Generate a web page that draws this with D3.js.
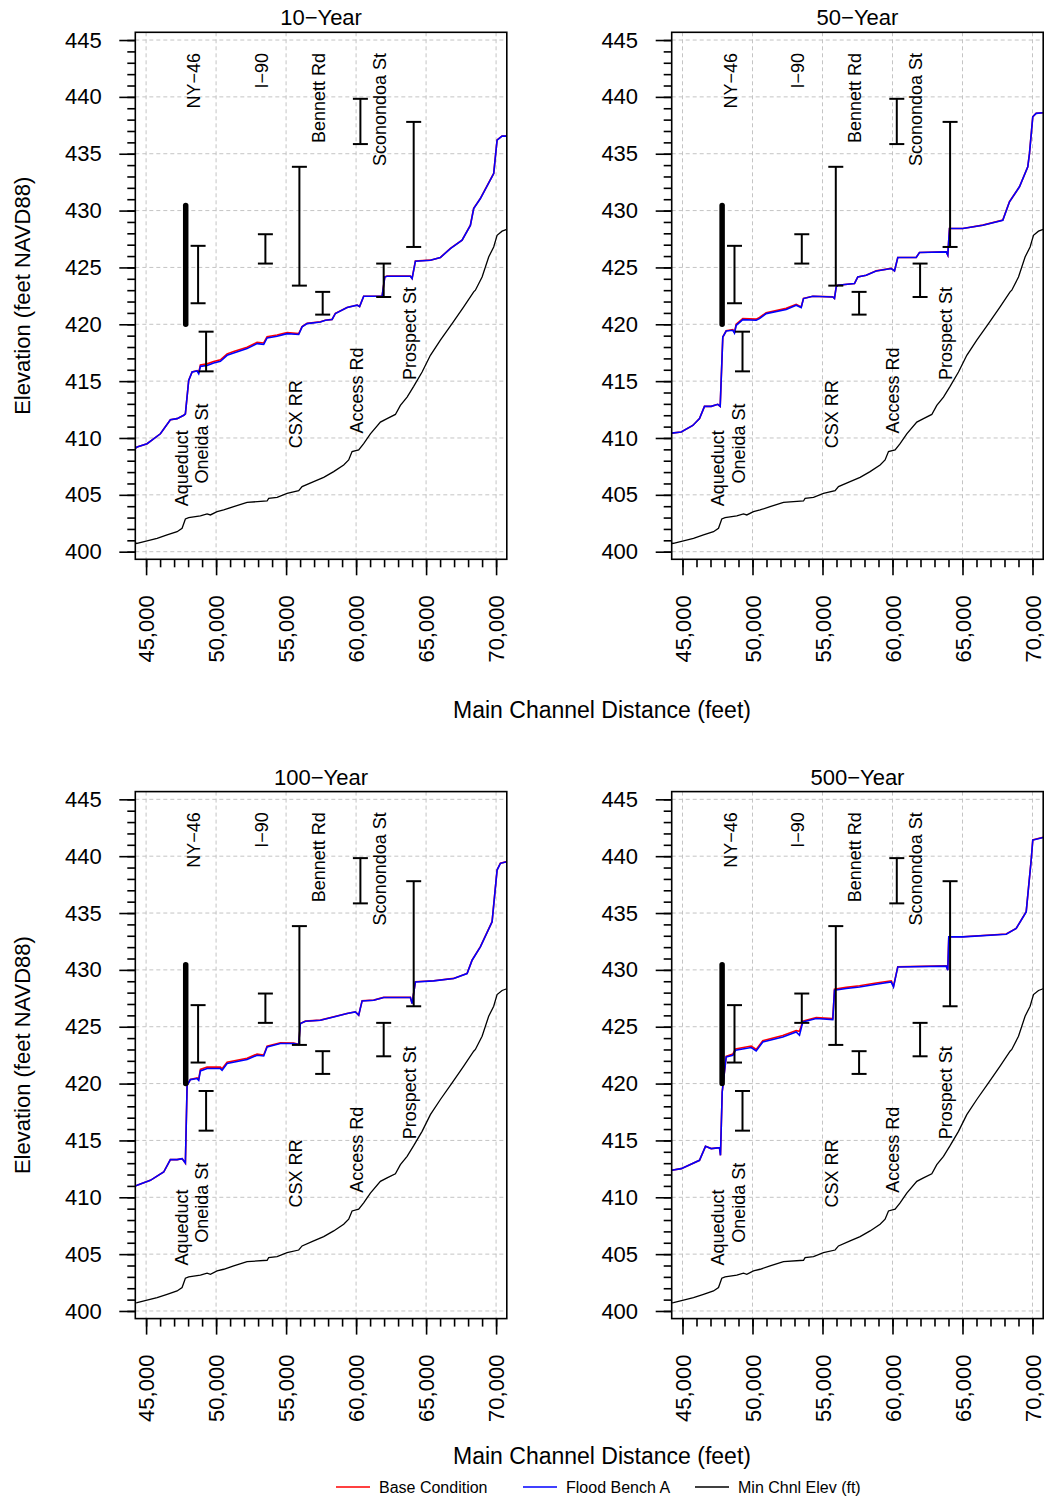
<!DOCTYPE html>
<html><head><meta charset="utf-8">
<script src="https://cdn.jsdelivr.net/npm/d3@7"></script>
<style>
body{margin:0;background:#fff;}
text{font-family:"Liberation Sans",Arial,Helvetica,sans-serif;fill:#000;}
</style>
</head><body>
<svg id="chart" width="1046" height="1499"></svg>
<script>
// ---------------- DATA ----------------
const xTickValues = [45000, 50000, 55000, 60000, 65000, 70000];
const yTickValues = [400, 405, 410, 415, 420, 425, 430, 435, 440, 445];
const xMinorTicks = d3.range(45000, 70001, 1000);
const yMinorTicks = d3.range(400, 446, 1);
const panelTitles = ["10\u2212Year", "50\u2212Year", "100\u2212Year", "500\u2212Year"];
const seriesNames = ["Base Condition", "Flood Bench A", "Min Chnl Elev (ft)"];

// Min channel elevation [station, elevation]
const minChannel = [[44229,400.72],[44357,400.74],[45786,401.18],[46500,401.47],[47214,401.76],[47571,402.06],[47807,402.88],[48043,403.0],[48879,403.15],[49357,403.32],[49593,403.23],[50071,403.52],[50543,403.67],[51257,403.96],[52214,404.34],[53643,404.46],[53757,404.69],[54357,404.78],[55071,405.13],[55900,405.36],[56143,405.72],[56971,406.16],[57686,406.54],[58400,407.04],[59114,407.63],[59471,408.07],[59714,408.8],[60186,408.96],[60543,409.5],[61021,410.37],[61736,411.4],[62214,411.7],[62807,412.07],[63164,412.87],[63643,413.6],[64114,414.54],[64714,415.8],[65307,417.27],[66021,418.6],[66857,420.06],[67686,421.53],[68400,422.85],[68521,423.0],[69000,424.16],[69471,425.92],[69829,426.8],[70071,427.83],[70429,428.19],[70765,428.34]];

// 10-Year
const bench10 = [[44229,409.1],[44357,409.2],[45071,409.5],[46021,410.37],[46736,411.6],[47214,411.7],[47690,412.0],[47807,412.13],[48043,415.07],[48286,415.8],[48643,415.89],[48757,415.66],[48879,416.3],[49357,416.37],[49829,416.59],[50307,416.74],[50786,417.27],[51257,417.47],[52214,417.86],[52929,418.3],[53400,418.24],[53643,418.8],[54357,418.94],[55071,419.18],[55900,419.1],[56143,419.77],[56500,420.06],[57450,420.2],[57807,420.35],[58286,420.42],[58521,420.95],[59357,421.47],[60071,421.68],[60250,421.55],[60543,422.46],[61857,422.46],[62050,424.16],[62214,424.23],[63879,424.23],[64000,424.02],[64236,425.55],[65307,425.63],[66021,425.87],[66736,426.66],[67571,427.39],[68164,428.7],[68400,430.18],[68879,431.06],[69829,433.26],[70071,436.2],[70429,436.55],[70765,436.55]];
const base10 = [[44229,409.1],[44357,409.2],[45071,409.5],[46021,410.37],[46736,411.6],[47214,411.7],[47690,412.0],[47807,412.13],[48043,415.07],[48286,415.8],[48643,415.92],[48757,415.75],[48879,416.42],[49357,416.52],[49829,416.72],[50307,416.88],[50786,417.4],[51257,417.6],[52214,417.98],[52929,418.42],[53400,418.36],[53643,418.9],[54357,419.05],[55071,419.28],[55900,419.18],[56143,419.8],[56500,420.08],[57450,420.22],[57807,420.36],[58286,420.43],[58521,420.96],[59357,421.48],[60071,421.69],[60250,421.56],[60543,422.47],[61857,422.47],[62050,424.17],[62214,424.24],[63879,424.24],[64000,424.03],[64236,425.56],[65307,425.64],[66021,425.88],[66736,426.67],[67571,427.4],[68164,428.71],[68400,430.19],[68879,431.07],[69829,433.27],[70071,436.21],[70429,436.56],[70765,436.56]];

// 50-Year
const bench50 = [[44229,410.43],[44907,410.52],[45736,411.1],[46214,411.7],[46571,412.78],[47050,412.78],[47521,412.96],[47693,412.78],[47879,418.88],[48121,419.41],[48593,419.47],[48714,419.23],[48836,419.91],[49307,420.41],[50264,420.35],[50500,420.5],[50979,420.94],[52407,421.3],[53121,421.68],[53479,421.47],[53643,422.26],[54307,422.46],[55736,422.4],[55857,422.27],[55979,423.28],[56093,423.43],[57286,423.58],[57521,424.16],[58121,424.31],[58836,424.69],[59907,424.9],[60143,424.69],[60379,425.87],[61693,425.87],[61929,426.31],[63836,426.37],[63950,426.08],[64071,428.42],[65021,428.42],[66450,428.71],[67879,429.15],[68357,430.77],[69071,432.09],[69664,433.85],[69786,435.03],[70021,438.25],[70264,438.55],[70765,438.6]];
const base50 = [[44229,410.43],[44907,410.52],[45736,411.1],[46214,411.7],[46571,412.78],[47050,412.78],[47521,412.96],[47693,412.78],[47879,418.88],[48121,419.43],[48593,419.52],[48714,419.3],[48836,420.0],[49307,420.5],[50264,420.45],[50500,420.6],[50979,421.02],[52407,421.4],[53121,421.75],[53479,421.52],[53643,422.28],[54307,422.47],[55736,422.41],[55857,422.28],[55979,423.29],[56093,423.44],[57286,423.59],[57521,424.17],[58121,424.32],[58836,424.7],[59907,424.91],[60143,424.7],[60379,425.88],[61693,425.88],[61929,426.32],[63836,426.38],[63950,426.09],[64071,428.43],[65021,428.43],[66450,428.72],[67879,429.16],[68357,430.78],[69071,432.1],[69664,433.86],[69786,435.04],[70021,438.26],[70264,438.56],[70765,438.61]];

// 100-Year
const bench100 = [[44229,411.0],[44357,411.05],[45307,411.49],[46257,412.22],[46736,413.31],[47214,413.31],[47571,413.4],[47807,413.01],[47929,419.85],[48164,420.35],[48643,420.44],[48757,420.29],[48879,421.11],[49357,421.32],[50307,421.32],[50429,421.17],[50786,421.76],[52214,422.11],[52929,422.49],[53400,422.43],[53643,423.22],[54593,423.52],[55543,423.52],[55900,423.43],[56021,425.28],[56379,425.48],[57450,425.57],[58400,425.86],[59357,426.16],[59950,426.3],[60186,426.01],[60429,427.27],[61257,427.33],[61971,427.57],[63879,427.57],[64000,427.04],[64236,428.94],[65543,429.03],[66971,429.24],[67929,429.68],[68286,430.85],[68879,432.03],[69714,434.23],[70071,438.78],[70307,439.37],[70765,439.51]];
const base100 = [[44229,411.0],[44357,411.05],[45307,411.49],[46257,412.22],[46736,413.31],[47214,413.31],[47571,413.4],[47807,413.01],[47929,419.85],[48164,420.36],[48643,420.5],[48757,420.38],[48879,421.25],[49357,421.45],[50307,421.45],[50429,421.3],[50786,421.88],[52214,422.22],[52929,422.6],[53400,422.52],[53643,423.3],[54593,423.58],[55543,423.56],[55900,423.45],[56021,425.29],[56379,425.49],[57450,425.58],[58400,425.87],[59357,426.17],[59950,426.31],[60186,426.02],[60429,427.28],[61257,427.34],[61971,427.58],[63879,427.58],[64000,427.05],[64236,428.95],[65543,429.04],[66971,429.25],[67929,429.69],[68286,430.86],[68879,432.04],[69714,434.24],[70071,438.79],[70307,439.38],[70765,439.52]];

// 500-Year
const bench500 = [[44229,412.37],[44907,412.52],[46214,413.25],[46643,414.48],[47050,414.28],[47643,414.37],[47714,413.69],[47836,419.26],[48121,422.34],[48593,422.49],[48786,422.93],[49907,423.17],[50264,422.87],[50736,423.66],[52164,424.1],[53121,424.54],[53357,424.25],[53593,425.42],[54550,425.72],[55736,425.63],[55857,428.21],[56693,428.36],[57643,428.5],[58836,428.74],[59907,428.94],[60071,428.5],[60379,430.26],[63836,430.33],[63950,429.97],[64021,432.9],[65021,432.9],[68121,433.14],[68836,433.64],[69550,435.1],[69907,439.66],[70021,441.42],[70765,441.65]];
const base500 = [[44229,412.37],[44907,412.52],[46214,413.25],[46643,414.48],[47050,414.28],[47643,414.37],[47714,413.69],[47836,419.26],[48121,422.4],[48593,422.6],[48786,423.05],[49907,423.3],[50264,423.0],[50736,423.78],[52164,424.22],[53121,424.66],[53357,424.6],[53593,425.5],[54550,425.8],[55736,425.72],[55857,428.3],[56693,428.46],[57643,428.6],[58836,428.84],[59907,429.04],[60071,428.55],[60379,430.28],[63836,430.35],[63950,429.99],[64021,432.91],[65021,432.91],[68121,433.15],[68836,433.65],[69550,435.11],[69907,439.67],[70021,441.43],[70765,441.66]];

const baseSeries = [base10, base50, base100, base500];
const benchSeries = [bench10, bench50, bench100, bench500];

// Structures: name, station, low chord, high chord, label side, label elevation
const structNames = ["Aqueduct", "NY\u221246", "Oneida St", "I\u221290", "CSX RR", "Bennett Rd", "Access Rd", "Sconondoa St", "Prospect St"];
const structSta   = [47830, 48714, 49286, 53521, 55950, 57614, 60307, 61971, 64114];
const structLow   = [420.0, 421.85, 415.86, 425.34, 423.4, 420.85, 435.85, 422.4, 426.8];
const structHigh  = [430.45, 426.9, 419.35, 427.92, 433.85, 422.85, 439.83, 425.34, 437.8];
const labelSide   = ["bottom", "top", "bottom", "top", "bottom", "top", "bottom", "top", "bottom"];
const labelElev   = [404.0, 443.86, 406.0, 443.86, 409.1, 443.86, 410.4, 443.86, 415.1];
const thickStruct = [true, false, false, false, false, false, false, false, false];

// ---------------- LAYOUT ----------------
const svg = d3.select("#chart");
const W = 371.5, H = 527;
const panels = [
  {x0: 135.3, y0: 32.3, left: true},
  {x0: 671.7, y0: 32.3, left: false},
  {x0: 135.3, y0: 791.6, left: true},
  {x0: 671.7, y0: 791.6, left: false}
];
const x = d3.scaleLinear().domain([44229, 70765]).range([0, W]);
const y = d3.scaleLinear().domain([399.33, 445.68]).range([H, 0]);
const line = d3.line().x(d => x(d[0])).y(d => y(d[1]));

panels.forEach((p, i) => {
  const g = svg.append("g").attr("transform", `translate(${p.x0},${p.y0})`);
  const clipId = "clip" + i;
  g.append("clipPath").attr("id", clipId).append("rect").attr("width", W).attr("height", H);

  // grid
  const grid = g.append("g").attr("stroke", "#c4c4c4").attr("stroke-width", 1).attr("stroke-dasharray", "4,3");
  grid.selectAll("line.v").data(xTickValues).join("line")
    .attr("x1", d => x(d)).attr("x2", d => x(d)).attr("y1", 0).attr("y2", H);
  grid.selectAll("line.h").data(yTickValues).join("line")
    .attr("y1", d => y(d)).attr("y2", d => y(d)).attr("x1", 0).attr("x2", W);

  const plot = g.append("g").attr("clip-path", `url(#${clipId})`);
  plot.append("path").datum(minChannel).attr("d", line)
    .attr("fill", "none").attr("stroke", "#000").attr("stroke-width", 1.3);
  plot.append("path").datum(baseSeries[i]).attr("d", line)
    .attr("fill", "none").attr("stroke", "#ff0000").attr("stroke-width", 1.6);
  plot.append("path").datum(benchSeries[i]).attr("d", line)
    .attr("fill", "none").attr("stroke", "#0000ff").attr("stroke-width", 1.6);

  // structures
  const sg = g.append("g").attr("stroke", "#000");
  structNames.forEach((nm, k) => {
    const sx = x(structSta[k]);
    if (thickStruct[k]) {
      sg.append("line").attr("x1", sx).attr("x2", sx)
        .attr("y1", y(structLow[k])).attr("y2", y(structHigh[k]))
        .attr("stroke-width", 5.5).attr("stroke-linecap", "round");
    } else {
      sg.append("line").attr("x1", sx).attr("x2", sx)
        .attr("y1", y(structLow[k])).attr("y2", y(structHigh[k])).attr("stroke-width", 2);
      [structLow[k], structHigh[k]].forEach(v => {
        sg.append("line").attr("x1", sx - 7.5).attr("x2", sx + 7.5)
          .attr("y1", y(v)).attr("y2", y(v)).attr("stroke-width", 2);
      });
    }
    g.append("text")
      .attr("transform", `translate(${sx - 4},${y(labelElev[k])}) rotate(-90)`)
      .attr("dy", "0.35em")
      .attr("text-anchor", labelSide[k] === "top" ? "end" : "start")
      .style("font-size", "18px")
      .text(nm);
  });

  // frame
  g.append("rect").attr("width", W).attr("height", H)
    .attr("fill", "none").attr("stroke", "#000").attr("stroke-width", 1.6);

  // y axis
  const yAx = g.append("g").call(d3.axisLeft(y).tickValues(yTickValues).tickSize(16).tickPadding(17.6));
  const yMin = g.append("g").call(d3.axisLeft(y).tickValues(yMinorTicks).tickSize(8).tickFormat(""));
  // x axis
  const xAx = g.append("g").attr("transform", `translate(0,${H})`)
    .call(d3.axisBottom(x).tickValues(xTickValues).tickSize(16).tickFormat(d3.format(",")));
  const xMin = g.append("g").attr("transform", `translate(0,${H})`)
    .call(d3.axisBottom(x).tickValues(xMinorTicks).tickSize(8).tickFormat(""));
  [yAx, yMin, xAx, xMin].forEach(a => {
    a.select(".domain").remove();
    a.selectAll(".tick line").attr("stroke", "#000").attr("stroke-width", 1.6);
  });
  yAx.selectAll("text").style("font-size", "22px").style("font-family", "Liberation Sans, Arial, sans-serif").attr("fill", "#000");
  xAx.selectAll("text")
    .attr("transform", "rotate(-90)").attr("x", -36).attr("y", 0).attr("dy", "0.35em")
    .attr("text-anchor", "end")
    .style("font-size", "22px").style("font-family", "Liberation Sans, Arial, sans-serif").attr("fill", "#000");

  // title
  g.append("text").attr("x", W / 2).attr("y", -7).attr("text-anchor", "middle")
    .style("font-size", "22px").text(panelTitles[i]);

  if (p.left) {
    svg.append("text")
      .attr("transform", `translate(22,${p.y0 + H / 2}) rotate(-90)`)
      .attr("dy", "0.35em").attr("text-anchor", "middle")
      .style("font-size", "22px").text("Elevation (feet NAVD88)");
  }
});

// x axis titles
[718, 1464].forEach(yy => {
  svg.append("text").attr("x", 602).attr("y", yy).attr("text-anchor", "middle")
    .style("font-size", "23px").text("Main Channel Distance (feet)");
});

// legend
const legendColors = ["#ff0000", "#0000ff", "#000000"];
const legendX = [336, 523, 695];
const lg = svg.append("g");
seriesNames.forEach((nm, k) => {
  lg.append("line").attr("x1", legendX[k]).attr("x2", legendX[k] + 34)
    .attr("y1", 1487).attr("y2", 1487).attr("stroke", legendColors[k]).attr("stroke-width", 1.6);
  lg.append("text").attr("x", legendX[k] + 43).attr("y", 1493)
    .style("font-size", "16px").text(nm);
});
</script>
</body></html>
